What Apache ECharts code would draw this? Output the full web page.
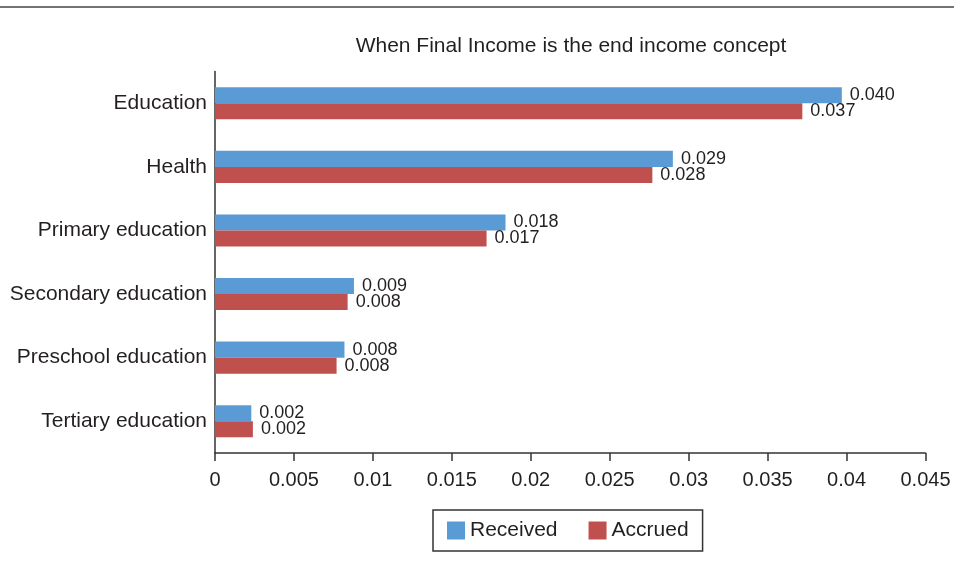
<!DOCTYPE html>
<html>
<head>
<meta charset="utf-8">
<script src="https://cdn.jsdelivr.net/npm/echarts@6/dist/echarts.min.js"></script>
<style>html,body{margin:0;padding:0;background:#fff}#c{width:954px;height:571px}</style>
</head>
<body>
<div id="c"></div>
<script>
const categories = ["Education", "Health", "Primary education", "Secondary education", "Preschool education", "Tertiary education"];
const received = [0.0397, 0.0290, 0.0184, 0.0088, 0.0082, 0.0023];
const accrued = [0.0372, 0.0277, 0.0172, 0.0084, 0.0077, 0.0024];
const xTicks = [0, 0.005, 0.01, 0.015, 0.02, 0.025, 0.03, 0.035, 0.04, 0.045];
const titleText = "When Final Income is the end income concept";

const FONT = "Liberation Sans";
const TXT = "#231f20";
const chart = echarts.init(document.getElementById('c'), null, {renderer: 'canvas'});
const lbl = {show: true, position: 'right', distance: 8, fontFamily: FONT, fontSize: 18, color: TXT,
  formatter: p => p.value.toFixed(3)};
chart.setOption({
  animation: false,
  title: {text: titleText, left: 566, textAlign: 'center', top: 31,
    textStyle: {fontFamily: FONT, fontSize: 21, fontWeight: 'normal', color: TXT}},
  graphic: [{type: 'line', shape: {x1: 0, y1: 7, x2: 954, y2: 7}, style: {stroke: '#444', lineWidth: 1.5}}],
  legend: {data: ['Received', 'Accrued'], left: 433, top: 510, orient: 'horizontal',
    itemWidth: 18, itemHeight: 18, itemGap: 31, icon: 'rect', padding: [10, 14, 10, 14],
    borderColor: '#333', borderWidth: 1.5,
    textStyle: {fontFamily: FONT, fontSize: 21, color: TXT}},
  grid: {left: 215, right: 28.5, top: 71.5, bottom: 118, containLabel: false},
  xAxis: {type: 'value', min: 0, max: 0.045, interval: 0.005,
    axisLine: {show: true, lineStyle: {color: '#333', width: 1.5}},
    axisTick: {show: true, length: 8, lineStyle: {color: '#333', width: 1.5}},
    splitLine: {show: false},
    axisLabel: {fontFamily: FONT, fontSize: 20, color: TXT, margin: 17,
      formatter: v => { const s = xTicks.find(t => Math.abs(t - v) < 1e-9); return String(s !== undefined ? s : v); }}},
  yAxis: {type: 'category', data: categories, inverse: true,
    axisLine: {show: true, lineStyle: {color: '#333', width: 1.5}},
    axisTick: {show: false},
    axisLabel: {fontFamily: FONT, fontSize: 21, color: TXT, margin: 8}},
  series: [
    {name: 'Received', type: 'bar', data: received, itemStyle: {color: '#5b9bd5'},
      barGap: '0%', barCategoryGap: '49.5%', label: lbl},
    {name: 'Accrued', type: 'bar', data: accrued, itemStyle: {color: '#c0504d'},
      barGap: '0%', barCategoryGap: '49.5%', label: lbl}
  ]
});
</script>
</body>
</html>
